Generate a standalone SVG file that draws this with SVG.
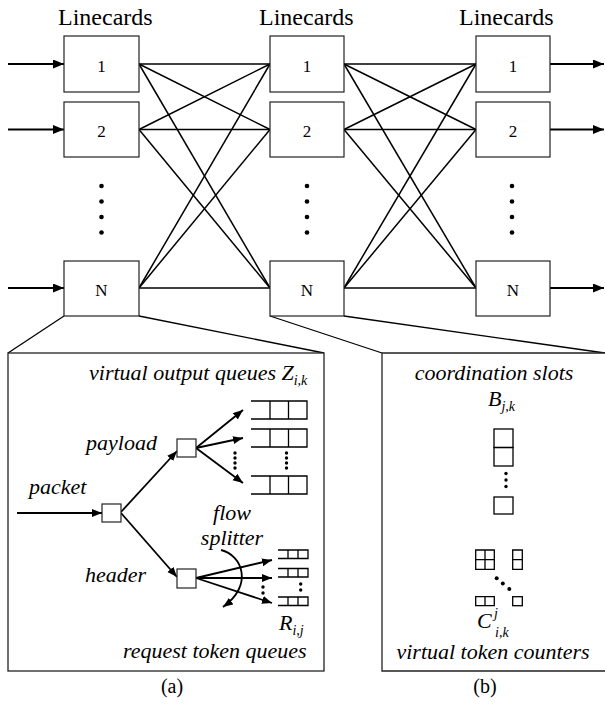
<svg xmlns="http://www.w3.org/2000/svg" width="605" height="708" viewBox="0 0 605 708">
<style>
.bx{fill:#fff;stroke:#222;stroke-width:1.2}
.ln{stroke:#000;stroke-width:1.5;fill:none}
.ar{stroke:#000;stroke-width:2;fill:none;marker-end:url(#ah)}
.ar2{stroke:#000;stroke-width:1.8;fill:none;marker-end:url(#ah2)}
.q{stroke:#000;stroke-width:1.3;fill:none}
.hd{font-family:"Liberation Serif","Times New Roman",serif;font-size:24px}
.num{font-family:"Liberation Serif","Times New Roman",serif;font-size:17px;text-anchor:middle}
.it{font-family:"Liberation Serif","Times New Roman",serif;font-size:22px;font-style:italic}
.sub{font-size:14px}
.cap{font-family:"Liberation Serif","Times New Roman",serif;font-size:20px;text-anchor:middle}
.pn{fill:#fff;stroke:#222;stroke-width:1.3}
</style>
<defs>
<marker id="ah" markerWidth="12" markerHeight="10" refX="11" refY="4.5" orient="auto" markerUnits="userSpaceOnUse"><path d="M0,0 L11,4.5 L0,9 z" fill="#000"/></marker>
<marker id="ah2" markerWidth="12" markerHeight="10" refX="10" refY="4" orient="auto" markerUnits="userSpaceOnUse"><path d="M0,0 L10,4 L0,8 z" fill="#000"/></marker>
</defs>
<g id="labels">
<text class="hd" x="58" y="25">Linecards</text>
<text class="hd" x="259" y="25">Linecards</text>
<text class="hd" x="459" y="25">Linecards</text>
</g>
<g id="connectors">
<line class="ar" x1="8" y1="64" x2="64" y2="64"/>
<line class="ar" x1="8" y1="129.5" x2="64" y2="129.5"/>
<line class="ar" x1="8" y1="288" x2="64" y2="288"/>
<line class="ar" x1="550" y1="64" x2="604" y2="64"/>
<line class="ar" x1="550" y1="129.5" x2="604" y2="129.5"/>
<line class="ar" x1="550" y1="288" x2="604" y2="288"/>
<g class="ln">
<line x1="139" y1="64" x2="270" y2="64"/><line x1="139" y1="64" x2="270" y2="129.5"/><line x1="139" y1="64" x2="270" y2="288"/>
<line x1="139" y1="129.5" x2="270" y2="64"/><line x1="139" y1="129.5" x2="270" y2="129.5"/><line x1="139" y1="129.5" x2="270" y2="288"/>
<line x1="139" y1="288" x2="270" y2="64"/><line x1="139" y1="288" x2="270" y2="129.5"/><line x1="139" y1="288" x2="270" y2="288"/>
<line x1="344" y1="64" x2="476" y2="64"/><line x1="344" y1="64" x2="476" y2="129.5"/><line x1="344" y1="64" x2="476" y2="288"/>
<line x1="344" y1="129.5" x2="476" y2="64"/><line x1="344" y1="129.5" x2="476" y2="129.5"/><line x1="344" y1="129.5" x2="476" y2="288"/>
<line x1="344" y1="288" x2="476" y2="64"/><line x1="344" y1="288" x2="476" y2="129.5"/><line x1="344" y1="288" x2="476" y2="288"/>
</g>
<g class="q">
<line x1="64" y1="316" x2="8" y2="353"/><line x1="139" y1="316" x2="324" y2="353"/>
<line x1="270" y1="316" x2="382" y2="353"/><line x1="344" y1="316" x2="605" y2="353"/>
</g>
</g>
<g id="col1">
<g id="L1"><rect class="bx" x="64" y="36" width="75" height="56"/><text class="num" x="101.5" y="72">1</text></g>
<g id="L2"><rect class="bx" x="64" y="102" width="75" height="55"/><text class="num" x="101.5" y="137">2</text></g>
<g id="LN"><rect class="bx" x="64" y="261" width="75" height="55"/><text class="num" x="101.5" y="296">N</text></g>
<g fill="#000"><circle cx="101.5" cy="186" r="2.3"/><circle cx="101.5" cy="201.5" r="2.3"/><circle cx="101.5" cy="217" r="2.3"/><circle cx="101.5" cy="232.5" r="2.3"/></g>
</g>
<g id="col2">
<g id="M1"><rect class="bx" x="270" y="36" width="74" height="56"/><text class="num" x="307" y="72">1</text></g>
<g id="M2"><rect class="bx" x="270" y="102" width="74" height="55"/><text class="num" x="307" y="137">2</text></g>
<g id="MN"><rect class="bx" x="270" y="261" width="74" height="55"/><text class="num" x="307" y="296">N</text></g>
<g fill="#000"><circle cx="307" cy="186" r="2.3"/><circle cx="307" cy="201.5" r="2.3"/><circle cx="307" cy="217" r="2.3"/><circle cx="307" cy="232.5" r="2.3"/></g>
</g>
<g id="col3">
<g id="R1"><rect class="bx" x="476" y="36" width="74" height="56"/><text class="num" x="513" y="72">1</text></g>
<g id="R2"><rect class="bx" x="476" y="102" width="74" height="55"/><text class="num" x="513" y="137">2</text></g>
<g id="RN"><rect class="bx" x="476" y="261" width="74" height="55"/><text class="num" x="513" y="296">N</text></g>
<g fill="#000"><circle cx="512" cy="186" r="2.3"/><circle cx="512" cy="201.5" r="2.3"/><circle cx="512" cy="217" r="2.3"/><circle cx="512" cy="232.5" r="2.3"/></g>
</g>
<g id="panelA">
<rect class="pn" x="8" y="353" width="316" height="318"/>
<text class="it" x="89" y="380">virtual output queues Z<tspan class="sub" dy="5">i,k</tspan></text>
<text class="it" x="86" y="450">payload</text>
<text class="it" x="29" y="494">packet</text>
<text class="it" x="85" y="582">header</text>
<text class="it" x="232" y="520" text-anchor="middle">flow</text>
<text class="it" x="232" y="545" text-anchor="middle">splitter</text>
<text class="it" x="279" y="630">R<tspan class="sub" dy="5">i,j</tspan></text>
<text class="it" x="123" y="658">request token queues</text>
<line class="ar2" x1="17" y1="513" x2="102" y2="513"/>
<line class="ar2" x1="121" y1="512" x2="177" y2="451"/>
<line class="ar2" x1="121" y1="513" x2="177" y2="577"/>
<line class="ar2" x1="196" y1="448" x2="243" y2="410"/>
<line class="ar2" x1="196" y1="448" x2="243" y2="438"/>
<line class="ar2" x1="196" y1="448" x2="243" y2="483"/>
<line class="ar2" x1="196" y1="578" x2="272" y2="560"/>
<line class="ar2" x1="196" y1="578" x2="272" y2="578"/>
<line class="ar2" x1="196" y1="578" x2="272" y2="603"/>
<path class="ar2" d="M221,550 C242,555 254,585 223,607"/>
<rect class="bx" x="102" y="504" width="19" height="18"/>
<rect class="bx" x="177" y="439" width="19" height="18"/>
<rect class="bx" x="177" y="569" width="19" height="19"/>
<g class="q">
<path d="M251,401 H307 V419 H251 M270,401 V419 M288.5,401 V419"/>
<path d="M251,429 H307 V447 H251 M270,429 V447 M288.5,429 V447"/>
<path d="M251,476 H307 V494 H251 M270,476 V494 M288.5,476 V494"/>
<path d="M278,550 H308 V558.5 H278 M288,550 V558.5 M298,550 V558.5"/>
<path d="M278,568.5 H308 V577 H278 M288,568.5 V577 M298,568.5 V577"/>
<path d="M278,597 H308 V605.5 H278 M288,597 V605.5 M298,597 V605.5"/>
</g>
<g fill="#000">
<circle cx="235" cy="453" r="1.7"/><circle cx="235" cy="458" r="1.7"/><circle cx="235" cy="463" r="1.7"/><circle cx="235" cy="468" r="1.7"/>
<circle cx="286.5" cy="453" r="1.7"/><circle cx="286.5" cy="458" r="1.7"/><circle cx="286.5" cy="463" r="1.7"/><circle cx="286.5" cy="468" r="1.7"/>
<circle cx="263" cy="587" r="1.7"/><circle cx="263" cy="593" r="1.7"/>
<circle cx="300.7" cy="584" r="1.7"/><circle cx="300.7" cy="590" r="1.7"/>
</g>
</g>
<g id="panelB">
<path class="pn" d="M605,353 H382 V671 H605"/>
<text class="it" x="494" y="380" text-anchor="middle">coordination slots</text>
<text class="it" x="488" y="406">B<tspan class="sub" dy="5">j,k</tspan></text>
<g class="q">
<rect x="494" y="429" width="19" height="18.5"/>
<rect x="494" y="447.5" width="19" height="18.5"/>
<rect x="494" y="497" width="19" height="17"/>
<path d="M475.7,550 H494.3 V569.3 H475.7 Z M485,550 V569.3 M475.7,559.6 H494.3"/>
<path d="M512.7,550 H522.3 V569.3 H512.7 Z M512.7,559.6 H522.3"/>
<path d="M475.7,596.7 H494.3 V605.7 H475.7 Z M485,596.7 V605.7"/>
<rect x="512.7" y="596.7" width="9.6" height="9"/>
</g>
<g fill="#000">
<circle cx="506" cy="473.5" r="1.7"/><circle cx="506" cy="480" r="1.7"/><circle cx="506" cy="486.5" r="1.7"/>
<circle cx="496.7" cy="578.3" r="2"/><circle cx="502.8" cy="583.5" r="2"/><circle cx="509.3" cy="589" r="2"/>
</g>
<text class="it" x="477" y="628">C<tspan class="sub" x="494" dy="-10">j</tspan><tspan class="sub" x="495" dy="19">i,k</tspan></text>
<text class="it" x="493" y="659" text-anchor="middle">virtual token counters</text>
</g>
<g id="captions">
<text class="cap" x="172" y="693">(a)</text>
<text class="cap" x="485" y="693">(b)</text>
</g>
</svg>
